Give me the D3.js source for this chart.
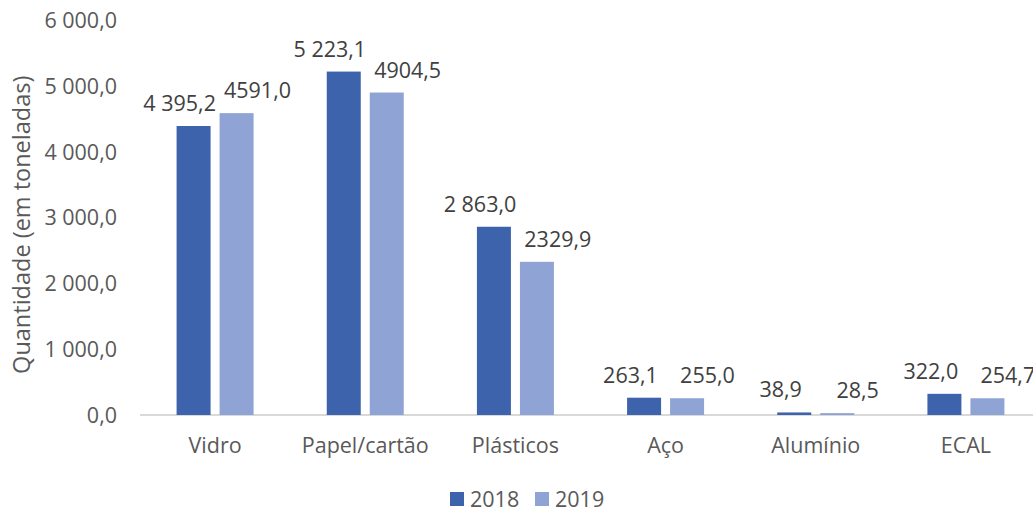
<!DOCTYPE html>
<html><head><meta charset="utf-8">
<script src="https://cdn.jsdelivr.net/npm/d3@7"></script>
<style>
html,body{margin:0;padding:0;background:#fff;}
svg{display:block;font-family:"Open Sans",Lato,sans-serif;}
</style></head>
<body>
<svg id="chart" width="1033" height="511"></svg>
<script>
const categories = ["Vidro","Papel/cartão","Plásticos","Aço","Alumínio","ECAL"];
const series = ["2018","2019"];
const values2018 = [4395.2,5223.1,2863.0,263.1,38.9,322.0];
const values2019 = [4591.0,4904.5,2329.9,255.0,28.5,254.7];
const labels2018 = ["4 395,2","5 223,1","2 863,0","263,1","38,9","322,0"];
const labels2019 = ["4591,0","4904,5","2329,9","255,0","28,5","254,7"];
const yTicks = [0,1000,2000,3000,4000,5000,6000];
const yTickLabels = ["0,0","1 000,0","2 000,0","3 000,0","4 000,0","5 000,0","6 000,0"];
const yTitle = "Quantidade (em toneladas)";

const colors = {"2018":"#3C63AC","2019":"#8FA4D4"};
const textColor = "#595959";
const fs = 21.5;
const titleFs = 23.5;

const svg = d3.select("#chart");
const x = d3.scaleBand().domain(categories).range([140,1041]).paddingInner(0).paddingOuter(0);
const y = d3.scaleLinear().domain([0,6000]).range([415,20.5]);
const bw = 34, gap = 9;
const groupW = bw*2+gap;

svg.append("line").attr("x1",140).attr("x2",1033).attr("y1",y(0)).attr("y2",y(0))
  .attr("stroke","#D9D9D9").attr("stroke-width",2);

svg.append("g").selectAll("text").data(yTicks).join("text")
  .attr("x",117).attr("y",d=>y(d)).attr("dy","0.35em").attr("text-anchor","end")
  .attr("fill",textColor).attr("font-size",fs).text((d,i)=>yTickLabels[i]);

svg.append("text").attr("transform",`translate(30,${(y(0)+y(6000))/2+7}) rotate(-90)`)
  .attr("text-anchor","middle").attr("fill",textColor).attr("font-size",titleFs).text(yTitle);

svg.append("g").selectAll("text").data(categories).join("text")
  .attr("x",d=>x(d)+x.bandwidth()/2).attr("y",453).attr("text-anchor","middle")
  .attr("fill",textColor).attr("font-size",fs).text(d=>d);

const rows = categories.map((c,i)=>({c, vals:[values2018[i],values2019[i]], labs:[labels2018[i],labels2019[i]]}));
const bx = (c,k)=> x(c)+x.bandwidth()/2 - groupW/2 + k*(bw+gap);

const barsG = svg.append("g");
const labG = svg.append("g");
rows.forEach(r=>{
  const items=[];
  series.forEach((s,k)=>{
    barsG.append("rect").attr("x",bx(r.c,k)).attr("width",bw)
      .attr("y",y(r.vals[k])).attr("height",y(0)-y(r.vals[k])).attr("fill",colors[s]);
    const t = labG.append("text").attr("x",bx(r.c,k)+bw/2).attr("y",y(r.vals[k])-15)
      .attr("text-anchor","middle").attr("fill","#404040").attr("font-size",fs).text(r.labs[k]);
    items.push({t, cx:bx(r.c,k)+bw/2, w:t.node().getComputedTextLength()});
  });
  const [a,b]=items;
  const overlap = (a.cx + a.w/2 + 8) - (b.cx - b.w/2);
  if(overlap>0){
    const sh = Math.max(overlap, 34);
    a.t.attr("x", a.cx - sh*0.4);
    b.t.attr("x", b.cx + sh*0.6);
  }
});

const lg = svg.append("g");
const legendX=[450,535];
series.forEach((s,k)=>{
  lg.append("rect").attr("x",legendX[k]).attr("y",492).attr("width",14).attr("height",14).attr("fill",colors[s]);
  lg.append("text").attr("x",legendX[k]+20).attr("y",499).attr("dy","0.35em")
    .attr("fill",textColor).attr("font-size",fs).text(s);
});
</script>
</body></html>
